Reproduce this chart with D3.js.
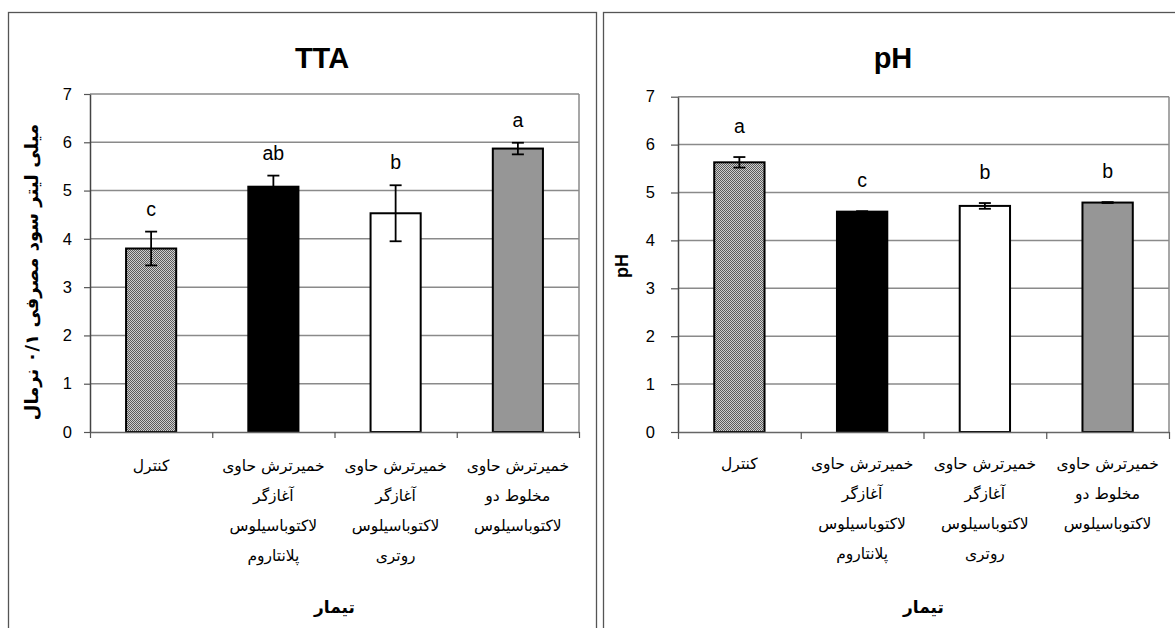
<!DOCTYPE html>
<html>
<head>
<meta charset="utf-8">
<script src="https://cdn.jsdelivr.net/npm/d3@7"></script>
<style>
  html, body { margin: 0; padding: 0; background: #fff; }
  svg { display: block; }
</style>
</head>
<body>
<script>
// Treatments (multi-line category labels)
const categories = [
  ["کنترل"],
  ["خمیرترش حاوی", "آغازگر", "لاکتوباسیلوس", "پلانتاروم"],
  ["خمیرترش حاوی", "آغازگر", "لاکتوباسیلوس", "روتری"],
  ["خمیرترش حاوی", "مخلوط دو", "لاکتوباسیلوس"]
];

// Titratable acidity (ml NaOH 0.1 N)
const ttaMeans   = [3.80, 5.08, 4.53, 5.87];
const ttaErrors  = [0.35, 0.23, 0.58, 0.12];
const ttaLetters = ["c", "ab", "b", "a"];

// pH
const phMeans   = [5.63, 4.60, 4.72, 4.79];
const phErrors  = [0.11, 0.01, 0.06, 0.01];
const phLetters = ["a", "c", "b", "b"];

const yTicks = [0, 1, 2, 3, 4, 5, 6, 7];
const yMax = 7;

const xAxisTitle = "تیمار";
const ttaTitle = "TTA";
const ttaAxisTitle = "میلی لیتر سود مصرفی ۰/۱ نرمال";
const phTitle = "pH";
const phAxisTitle = "pH";

const LATIN = "'Liberation Sans', Arial, sans-serif";
const PERSIAN = "'DejaVu Sans', sans-serif";

const svg = d3.select("body").append("svg")
  .attr("width", 1175).attr("height", 628);

// fine checkered fill used for the control bar
const defs = svg.append("defs");
const pat = defs.append("pattern")
  .attr("id", "checker")
  .attr("patternUnits", "userSpaceOnUse")
  .attr("width", 2).attr("height", 2);
pat.append("rect").attr("width", 2).attr("height", 2).attr("fill", "#cfcfcf");
pat.append("rect").attr("width", 1).attr("height", 1).attr("fill", "#5c5c5c");
pat.append("rect").attr("x", 1).attr("y", 1).attr("width", 1).attr("height", 1).attr("fill", "#5c5c5c");

const barFills = ["url(#checker)", "#000000", "#ffffff", "#969696"];

function drawPanel(cfg) {
  const g = svg.append("g");

  // chart frame
  g.append("rect")
    .attr("x", cfg.frame[0] + 0.5).attr("y", cfg.frame[1] + 0.5)
    .attr("width", cfg.frame[2]).attr("height", cfg.frame[3])
    .attr("fill", "#fff").attr("stroke", "#555").attr("stroke-width", 1.3);

  const x = d3.scaleBand()
    .domain(d3.range(categories.length))
    .range([cfg.x0, cfg.x1])
    .paddingInner(0.59)
    .paddingOuter(0.295);

  const xEdges = d3.scaleLinear().domain([0, categories.length]).range([cfg.x0, cfg.x1]);
  const y = d3.scaleLinear().domain([0, yMax]).range([cfg.y1, cfg.y0]);

  // horizontal gridlines
  g.append("g")
    .selectAll("line")
    .data(yTicks.filter(t => t > 0))
    .join("line")
    .attr("x1", cfg.x0).attr("x2", cfg.x1)
    .attr("y1", d => y(d)).attr("y2", d => y(d))
    .attr("stroke", "#8a8a8a").attr("stroke-width", 1.5);

  // right edge of plot area
  g.append("line")
    .attr("x1", cfg.x1).attr("x2", cfg.x1)
    .attr("y1", y(yMax)).attr("y2", y(0))
    .attr("stroke", "#8a8a8a").attr("stroke-width", 1.5);

  // bars
  g.append("g")
    .selectAll("rect")
    .data(cfg.means)
    .join("rect")
    .attr("x", (d, i) => x(i))
    .attr("y", d => y(d))
    .attr("width", x.bandwidth())
    .attr("height", d => y(0) - y(d))
    .attr("fill", (d, i) => barFills[i])
    .attr("stroke", "#000").attr("stroke-width", 2);

  // error bars
  const eb = g.append("g").attr("stroke", "#000").attr("stroke-width", 1.8);
  cfg.means.forEach((m, i) => {
    const cx = x(i) + x.bandwidth() / 2;
    const e = cfg.errors[i];
    const top = y(m + e), bot = y(m - e);
    eb.append("line").attr("x1", cx).attr("x2", cx).attr("y1", top).attr("y2", bot);
    eb.append("line").attr("x1", cx - 6).attr("x2", cx + 6).attr("y1", top).attr("y2", top);
    eb.append("line").attr("x1", cx - 6).attr("x2", cx + 6).attr("y1", bot).attr("y2", bot);
  });

  // y axis
  const yAxis = g.append("g")
    .attr("transform", `translate(${cfg.x0},0)`)
    .call(d3.axisLeft(y).tickValues(yTicks).tickFormat(d3.format("d"))
      .tickSize(cfg.tick).tickSizeOuter(0).tickPadding(cfg.tickPad));
  yAxis.select(".domain").attr("stroke", "#444").attr("stroke-width", 1.5);
  yAxis.selectAll(".tick line").attr("stroke", "#555").attr("stroke-width", 1.2);
  yAxis.selectAll(".tick text")
    .attr("font-family", LATIN).attr("font-size", 16.5).attr("fill", "#000");

  // x axis with ticks at category boundaries
  const xAxis = g.append("g")
    .attr("transform", `translate(0,${cfg.y1})`)
    .call(d3.axisBottom(xEdges).tickValues(d3.range(categories.length + 1))
      .tickFormat("").tickSize(cfg.tick).tickSizeOuter(0));
  xAxis.select(".domain").attr("stroke", "#666").attr("stroke-width", 1.5);
  xAxis.selectAll(".tick line").attr("stroke", "#555").attr("stroke-width", 1.2);

  // significance letters
  g.append("g")
    .selectAll("text")
    .data(cfg.letters)
    .join("text")
    .attr("x", (d, i) => x(i) + x.bandwidth() / 2)
    .attr("y", (d, i) => y(cfg.means[i] + cfg.errors[i]) - cfg.letterGap)
    .attr("text-anchor", "middle")
    .attr("font-family", LATIN).attr("font-size", 19.5)
    .text(d => d);

  // category labels
  const lab = g.append("g")
    .selectAll("text")
    .data(categories)
    .join("text")
    .attr("text-anchor", "middle")
    .attr("font-family", PERSIAN).attr("font-size", cfg.labelSize)
    .attr("fill", "#000");
  lab.each(function (lines, i) {
    const cx = x(i) + x.bandwidth() / 2;
    d3.select(this).selectAll("tspan")
      .data(lines)
      .join("tspan")
      .attr("x", cx)
      .attr("y", (d, k) => cfg.labelTop + k * 30)
      .text(d => d);
  });

  // chart title
  g.append("text")
    .attr("x", cfg.titleX).attr("y", 68)
    .attr("text-anchor", "middle")
    .attr("font-family", LATIN).attr("font-weight", "bold").attr("font-size", 29)
    .text(cfg.title);

  // axis titles
  g.append("text")
    .attr("x", (cfg.x0 + cfg.x1) / 2).attr("y", 613)
    .attr("text-anchor", "middle")
    .attr("font-family", PERSIAN).attr("font-weight", "bold").attr("font-size", 17)
    .text(xAxisTitle);

  g.append("text")
    .attr("transform", `translate(${cfg.yTitleX},${cfg.yTitleY}) rotate(-90)`)
    .attr("text-anchor", "middle")
    .attr("direction", cfg.yTitleRtl ? "rtl" : "ltr")
    .attr("font-family", cfg.yTitleRtl ? PERSIAN : LATIN)
    .attr("font-weight", "bold").attr("font-size", 18)
    .text(cfg.yTitle);
}

drawPanel({
  frame: [8, 12, 588, 700],
  x0: 90, x1: 579, y0: 94, y1: 432,
  tick: 6, tickPad: 12,
  means: ttaMeans, errors: ttaErrors, letters: ttaLetters,
  letterGap: 16,
  labelTop: 471, labelSize: 15.5,
  title: ttaTitle, titleX: 322,
  yTitle: ttaAxisTitle, yTitleX: 38, yTitleY: 272, yTitleRtl: true
});

drawPanel({
  frame: [603, 12, 700, 700],
  x0: 678, x1: 1169, y0: 96.7, y1: 432,
  tick: 7, tickPad: 16,
  means: phMeans, errors: phErrors, letters: phLetters,
  letterGap: 24,
  labelTop: 469, labelSize: 15.5,
  title: phTitle, titleX: 893,
  yTitle: phAxisTitle, yTitleX: 628, yTitleY: 266, yTitleRtl: false
});
</script>
</body>
</html>
